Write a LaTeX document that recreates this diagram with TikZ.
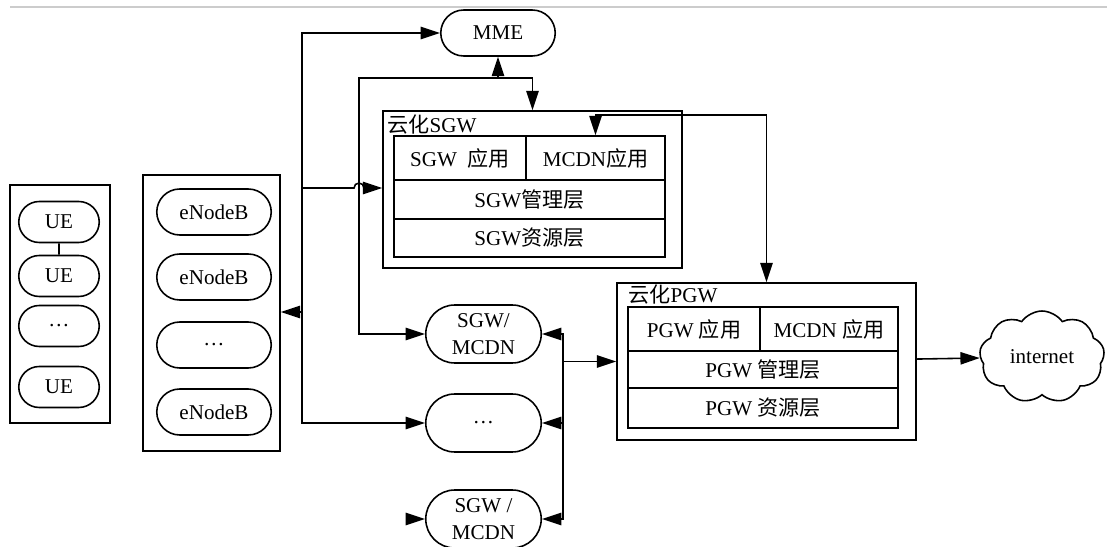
\documentclass[tikz,border=0pt]{standalone}
\usepackage{fontspec}
\setmainfont{Liberation Serif}
\newfontfamily\cjk{Noto Sans CJK SC}
\usetikzlibrary{arrows.meta,shapes.misc,shapes.symbols}
\newcommand{\zh}[1]{{\cjk #1}}

\begin{document}
\begin{tikzpicture}[x = .02cm, y = -.02cm, line width = .9pt,
		font = \fontsize{12}{15}\selectfont,
		pill/.style = {draw, rounded rectangle, inner sep = 1pt, minimum height = .92cm},
		frame/.style = {draw, inner sep = 0pt},
		cell/.style = {draw, inner sep = 0pt, minimum height = #1},
		arr/.style = {-{Triangle[length = 11pt, width = 7pt]}},
		dblarr/.style = {{Triangle[length = 11pt, width = 7pt]}-{Triangle[length = 11pt, width = 7pt]}}]
		\useasboundingbox (0,0) rectangle (1107,547);
		\draw [gray!40, line width = .6pt] (10,7) -- (1107,7);
		
		\node (uebox) at (60,304) [frame, minimum width = 2cm, minimum height = 4.76cm] {};
		\node (ue1) at (59,222) [pill, minimum width = 1.68cm, minimum height = .82cm] {UE};
		\node (ue2) at (59,276) [pill, minimum width = 1.68cm, minimum height = .82cm] {UE};
		\node (ue3) at (59,326) [pill, minimum width = 1.68cm, minimum height = .82cm] {\ldots};
		\node (ue4) at (59,387) [pill, minimum width = 1.68cm, minimum height = .82cm] {UE};
		\draw (ue1) -- (ue2);
		
		\node (enbbox) at (211.5,313) [frame, minimum width = 2.74cm, minimum height = 5.52cm] {};
		\node (enb1) at (214,212) [pill, minimum width = 2.36cm] {eNodeB};
		\node (enb2) at (214,277) [pill, minimum width = 2.36cm] {eNodeB};
		\node (enb3) at (214,345) [pill, minimum width = 2.36cm] {\ldots};
		\node (enb4) at (214,412) [pill, minimum width = 2.36cm] {eNodeB};
		
		\node (mme) at (498,33) [pill, minimum width = 2.36cm] {MME};
		
		\node (sgwbox) at (532.5,189.5) [frame, minimum width = 5.98cm, minimum height = 3.14cm] {};
		\node (sgwtitle) at (385,125) [anchor = west, inner sep = 1pt] {\zh{云化}SGW};
		\node (sgwapp) at (460,158) [cell = .88cm, minimum width = 2.64cm] {SGW\ \ \zh{应用}};
		\node (sgwmcdn) at (595.5,158) [cell = .88cm, minimum width = 2.78cm] {MCDN\zh{应用}};
		\node (sgwmgmt) at (529.5,199.5) [cell = .78cm, minimum width = 5.42cm] {SGW\zh{管理层}};
		\node (sgwres) at (529.5,238) [cell = .76cm, minimum width = 5.42cm] {SGW\zh{资源层}};
		
		\node (pgwbox) at (766.5,361.5) [frame, minimum width = 5.98cm, minimum height = 3.14cm] {};
		\node (pgwtitle) at (626,295) [anchor = west, inner sep = 1pt] {\zh{云化}PGW};
		\node (pgwapp) at (694,329) [cell = .88cm, minimum width = 2.64cm] {PGW \zh{应用}};
		\node (pgwmcdn) at (829,329) [cell = .88cm, minimum width = 2.76cm] {MCDN \zh{应用}};
		\node (pgwmgmt) at (763,369.5) [cell = .74cm, minimum width = 5.4cm] {PGW \zh{管理层}};
		\node (pgwres) at (763,408) [cell = .8cm, minimum width = 5.4cm] {PGW \zh{资源层}};
		
		\node (sm1) at (483.5,334) [pill, minimum width = 2.38cm, minimum height = 1.16cm, align = center] {SGW/\\MCDN};
		\node (sm2) at (483.5,423) [pill, minimum width = 2.38cm, minimum height = 1.16cm] {\ldots};
		\node (sm3) at (483.5,519) [pill, minimum width = 2.38cm, minimum height = 1.16cm, align = center] {SGW /\\MCDN};
		
		\node (net) at (1042,357) [draw, cloud, cloud puffs = 9, cloud puff arc = 110, aspect = 1.4, inner sep = 0pt, minimum width = 2.5cm, minimum height = 1.84cm] {internet};
		
		\coordinate (ba) at (302,312);
		\coordinate (bahop) at (302,188);
		\coordinate (bb) at (359,334);
		\coordinate (mmeturn) at (498,78);
		\coordinate (sgwtop) at (595.5,115);
		\coordinate (bc) at (563,361.5);
		\coordinate (stub) at (407,519);
		
		\draw [arr] (ba) |- (mme);
		\draw [arr] (ba) -- (enbbox.east |- ba);
		\draw [arr] (ba) |- (sm2);
		\draw [arr] (bahop) -- ([xshift = -.1cm]bb |- bahop) arc [start angle = 180, end angle = 0, radius = .1cm] -- (sgwbox.west |- bahop);
		
		\draw [dblarr] (mme) -- (mmeturn) -| (bb) -- (sm1);
		\draw [arr] (mmeturn) -| (sgwbox);
		\draw [dblarr] (sgwmcdn) -- (sgwtop) -| (pgwbox);
		
		\draw [arr] (bc) -- (pgwbox);
		\draw [arr] (bc) |- (sm1);
		\draw [arr] (bc) |- (sm2);
		\draw [arr] (bc) |- (sm3);
		\draw [arr] (stub) -- (sm3);
		\draw [arr] (pgwbox) -- (net);
		\end{tikzpicture}
\end{document}
